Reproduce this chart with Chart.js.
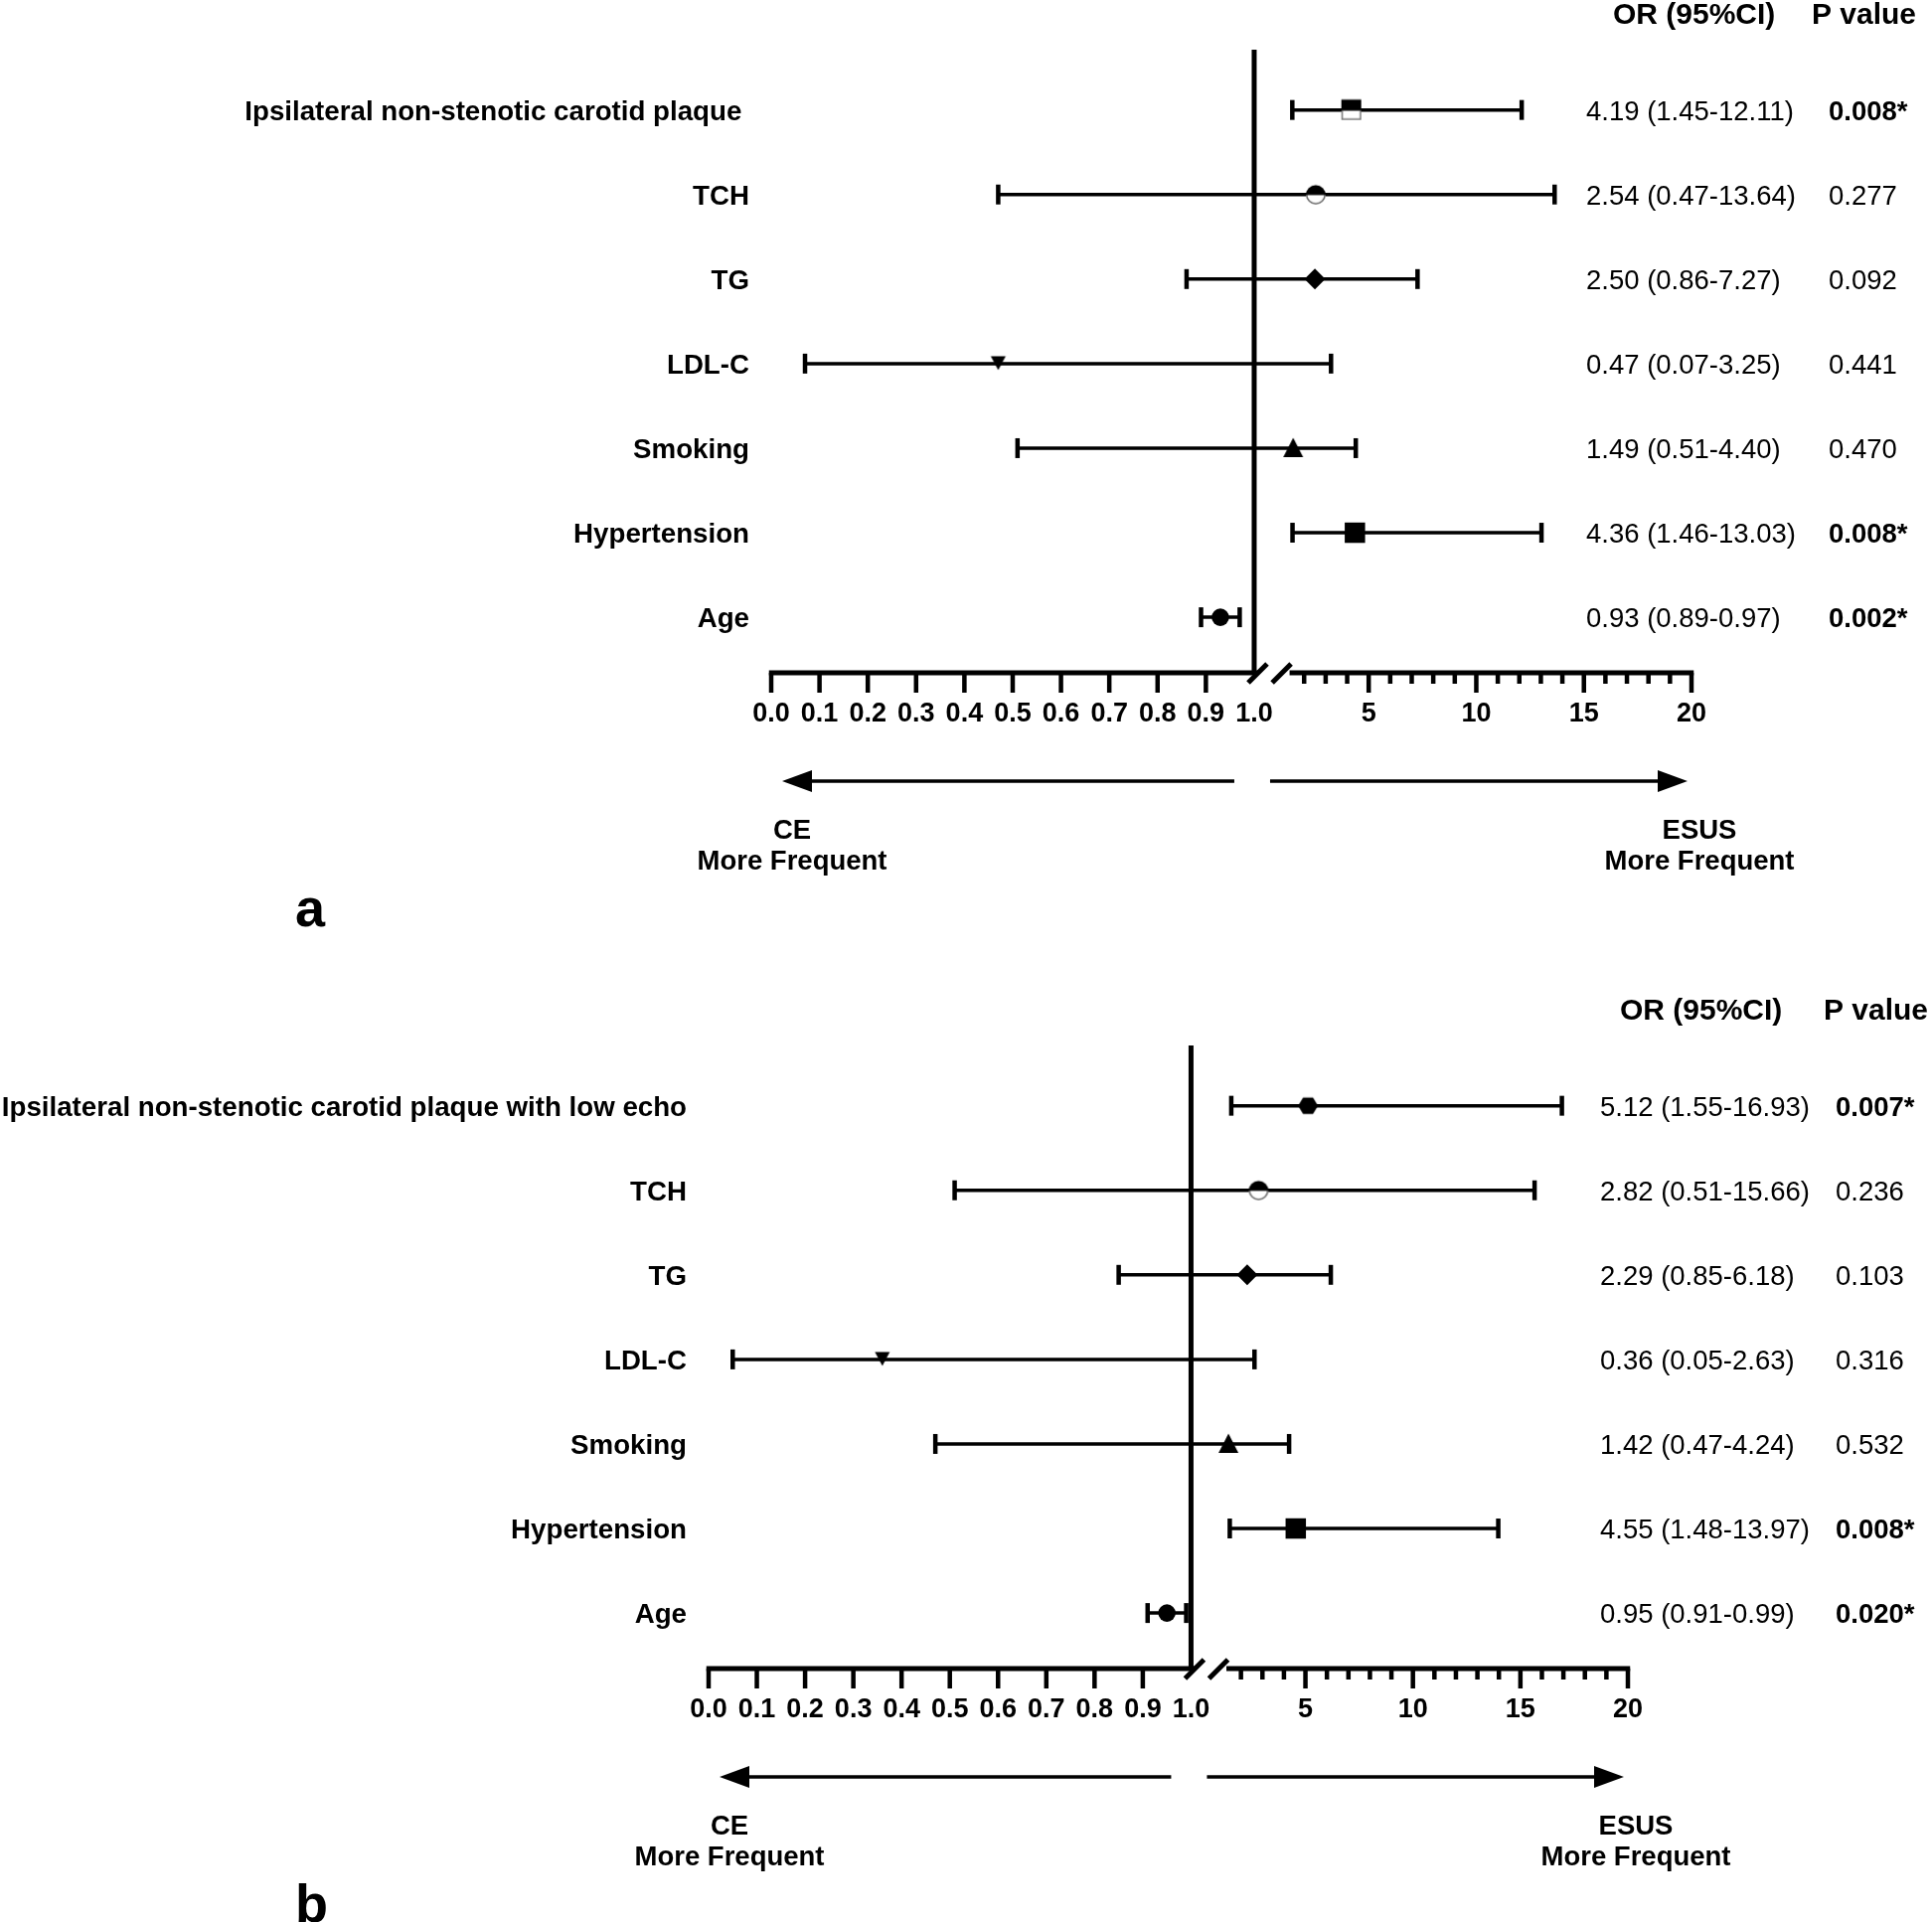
<!DOCTYPE html>
<html>
<head>
<meta charset="utf-8">
<title>Forest plots: CE vs ESUS</title>
<script src="https://cdn.jsdelivr.net/npm/chart.js@4.4.1/dist/chart.umd.min.js"></script>
<style>
  html, body { margin: 0; padding: 0; background: #fff; overflow: hidden; }
  body { width: 1944px; height: 1934px; position: relative; }
  canvas { position: absolute; left: 0; }
  #panelA { top: 0; }
  #panelB { top: 1002px; }
</style>
</head>
<body>
<canvas id="panelA" width="1944" height="1002"></canvas>
<canvas id="panelB" width="1944" height="1002"></canvas>
<script>
'use strict';

// ── Data ────────────────────────────────────────────────────────────────────
const LABELS_A = ['Ipsilateral non-stenotic carotid plaque ', 'TCH', 'TG', 'LDL-C', 'Smoking', 'Hypertension', 'Age'];
const OR_A     = [4.19, 2.54, 2.50, 0.47, 1.49, 4.36, 0.93];
const LO_A     = [1.45, 0.47, 0.86, 0.07, 0.51, 1.46, 0.89];
const HI_A     = [12.11, 13.64, 7.27, 3.25, 4.40, 13.03, 0.97];
const P_A      = [0.008, 0.277, 0.092, 0.441, 0.470, 0.008, 0.002];

const LABELS_B = ['Ipsilateral non-stenotic carotid plaque with low echo', 'TCH', 'TG', 'LDL-C', 'Smoking', 'Hypertension', 'Age'];
const OR_B     = [5.12, 2.82, 2.29, 0.36, 1.42, 4.55, 0.95];
const LO_B     = [1.55, 0.51, 0.85, 0.05, 0.47, 1.48, 0.91];
const HI_B     = [16.93, 15.66, 6.18, 2.63, 4.24, 13.97, 0.99];
const P_B      = [0.007, 0.236, 0.103, 0.316, 0.532, 0.008, 0.020];

// x axis: 0.0–1.0 in tenths, then a break, then 1–20
const X_TICKS = [0, 0.1, 0.2, 0.3, 0.4, 0.5, 0.6, 0.7, 0.8, 0.9, 1,
                 2, 3, 4, 5, 6, 7, 8, 9, 10, 11, 12, 13, 14, 15, 16, 17, 18, 19, 20];

// marker shape per row (style, not data)
const MARKERS_A = ['halfSquare', 'halfCircle', 'diamond', 'triangleDown', 'triangle', 'square', 'circle'];
const MARKERS_B = ['hexagon',    'halfCircle', 'diamond', 'triangleDown', 'triangle', 'square', 'circle'];

// ── Theme ───────────────────────────────────────────────────────────────────
const FONT = "'Liberation Sans', Arial, Helvetica, sans-serif";
const TEXT_DY = 2.5;   // nudge text baselines to match the original
Chart.defaults.color = '#000';
Chart.defaults.font.family = FONT;

// ── Broken linear scale: [0,1] on the left piece, [1,20] on the right ──────
class BrokenScale extends Chart.LinearScale {
  buildTicks() {
    return X_TICKS.map(v => ({ value: v }));
  }
  getPixelForValue(v) {
    const o = this.options, l = this.left, w = this.width;
    if (v <= o.breakAt) return l + (v - this.min) / (o.breakAt - this.min) * w * o.leftFrac;
    const start = l + w * (o.leftFrac + o.gapFrac);
    return start + (v - o.breakAt) / (this.max - o.breakAt) * (l + w - start);
  }
  getValueForPixel(px) {
    const o = this.options, l = this.left, w = this.width;
    const split = l + w * o.leftFrac;
    if (px <= split) return this.min + (px - l) / (w * o.leftFrac) * (o.breakAt - this.min);
    const start = l + w * (o.leftFrac + o.gapFrac);
    return o.breakAt + (px - start) / (l + w - start) * (this.max - o.breakAt);
  }
}
BrokenScale.id = 'broken';
BrokenScale.defaults = {};
Chart.register(BrokenScale);

// ── Marker shapes ───────────────────────────────────────────────────────────
function poly(g, pts) {
  g.beginPath();
  pts.forEach(([px, py]) => g.lineTo(px, py));
  g.closePath();
  g.fill();
}

function makeMarker(kind) {
  const c = document.createElement('canvas');
  c.width = 24; c.height = 24;
  const g = c.getContext('2d');
  const m = 12;
  g.fillStyle = '#000';
  if (kind === 'halfSquare') {
    g.fillStyle = '#fff';
    g.fillRect(2, 12, 20, 10);
    g.strokeStyle = '#777';
    g.lineWidth = 1.5;
    g.strokeRect(2.75, 12, 18.5, 9.25);
    g.fillStyle = '#000';
    g.fillRect(2, 1.5, 20, 11);
  } else if (kind === 'halfCircle') {
    g.fillStyle = '#fff';
    g.beginPath(); g.arc(m, m, 10, 0, Math.PI); g.fill();
    g.strokeStyle = '#666';
    g.lineWidth = 1.5;
    g.beginPath(); g.arc(m, m, 9.25, 0, Math.PI); g.stroke();
    g.fillStyle = '#000';
    g.beginPath(); g.arc(m, m + 0.5, 10, Math.PI, 2 * Math.PI); g.closePath(); g.fill();
  } else if (kind === 'hexagon') {
    const pts = [];
    for (let k = 0; k < 6; k++) {
      const t = k * Math.PI / 3;
      pts.push([m + 10 * Math.cos(t), m + 9.5 * Math.sin(t)]);
    }
    poly(g, pts);
  } else if (kind === 'triangle') {
    poly(g, [[12, 1.5], [2, 21], [22, 21]]);
  } else if (kind === 'triangleDown') {
    poly(g, [[4.5, 4.5], [19.5, 4.5], [12, 18.5]]);
  }
  return c;
}

const MARKER_STYLE = {
  halfSquare:   { style: makeMarker('halfSquare'),   radius: 10 },
  halfCircle:   { style: makeMarker('halfCircle'),   radius: 10 },
  hexagon:      { style: makeMarker('hexagon'),      radius: 10 },
  triangle:     { style: makeMarker('triangle'),     radius: 10 },
  triangleDown: { style: makeMarker('triangleDown'), radius: 8 },
  diamond:      { style: 'rectRot', radius: 10.5 },
  square:       { style: 'rect',    radius: 14.5 },
  circle:       { style: 'circle',  radius: 8.8 },
};

// ── Decorations: reference line, broken axis, arrows, text columns ─────────
function seg(ctx, x1, y1, x2, y2) {
  ctx.beginPath(); ctx.moveTo(x1, y1); ctx.lineTo(x2, y2); ctx.stroke();
}

function arrow(ctx, from, tip, yy) {
  const dir = Math.sign(tip - from);
  const base = tip - dir * 30;
  seg(ctx, from, yy, base, yy);
  ctx.beginPath();
  ctx.moveTo(tip, yy);
  ctx.lineTo(base, yy - 11);
  ctx.lineTo(base, yy + 11);
  ctx.closePath();
  ctx.fill();
}

const forestDecor = {
  id: 'forestDecor',
  beforeDatasetsDraw(chart) {
    const { ctx, chartArea: area, scales: { x } } = chart;
    const xL = x.getPixelForValue(1);
    const xR = x.getPixelForValue(1 + 1e-9);
    const yAx = area.bottom;
    ctx.save();
    ctx.strokeStyle = '#000';
    ctx.lineCap = 'butt';

    // OR = 1 reference line
    ctx.lineWidth = 5;
    seg(ctx, xL, area.top, xL, yAx);

    // axis line with break
    seg(ctx, x.getPixelForValue(0) - 2.25, yAx, xL + 4, yAx);
    seg(ctx, xR + 7, yAx, x.getPixelForValue(20) + 2.25, yAx);
    [xL + 3.5, xR - 1].forEach(cx => seg(ctx, cx - 9.5, yAx + 10, cx + 9.5, yAx - 9));

    // tick marks
    ctx.lineWidth = 4.5;
    x.ticks.forEach(t => {
      if (t.value === 1) return;
      const px = x.getPixelForValue(t.value);
      const major = t.value < 1 || t.value % 5 === 0;
      seg(ctx, px, yAx, px, yAx + (major ? 20 : 11));
    });
    ctx.restore();
  },
  afterDraw(chart, args, p) {
    const { ctx, chartArea: area, scales: { x, y } } = chart;
    const x0 = x.getPixelForValue(0);
    const x20 = x.getPixelForValue(20);
    const xL = x.getPixelForValue(1);
    const yAx = area.bottom;
    ctx.save();
    ctx.fillStyle = '#000';
    ctx.strokeStyle = '#000';

    // direction arrows
    ctx.lineWidth = 3.5;
    arrow(ctx, xL - 20, x0 + 11, yAx + 109);
    arrow(ctx, xL + 16, x20 - 4, yAx + 109);

    ctx.textBaseline = 'middle';
    ctx.textAlign = 'center';
    ctx.font = 'bold 27.5px ' + FONT;
    ctx.fillText('CE', x0 + 21, yAx + 159.5);
    ctx.fillText('More Frequent', x0 + 21, yAx + 190);
    ctx.fillText('ESUS', x20 + 8, yAx + 159.5);
    ctx.fillText('More Frequent', x20 + 8, yAx + 190);

    // table columns
    ctx.textAlign = 'left';
    ctx.font = 'bold 30px ' + FONT;
    ctx.fillText('OR (95%CI)', p.headOrX, 16);
    ctx.fillText('P value', p.headPX, 16);

    p.or.forEach((v, i) => {
      const py = y.getPixelForValue(i) + TEXT_DY;
      ctx.font = '27.5px ' + FONT;
      ctx.fillText(`${v.toFixed(2)} (${p.lo[i].toFixed(2)}-${p.hi[i].toFixed(2)})`, p.orX, py);
      const sig = p.p[i] < 0.05;
      ctx.font = (sig ? 'bold ' : '') + '27.5px ' + FONT;
      ctx.fillText(p.p[i].toFixed(3) + (sig ? '*' : ''), p.pX, py);
    });

    // panel letter
    ctx.font = 'bold 54px ' + FONT;
    ctx.textBaseline = 'alphabetic';
    ctx.fillText(p.letter, 297, 932);
    ctx.restore();
  },
};

// ── Build one forest panel ──────────────────────────────────────────────────
function buildPanel(canvasId, p) {
  const marks = p.markers.map(k => MARKER_STYLE[k]);

  const ciSets = p.labels.map((_, i) => ({
    data: [{ x: p.lo[i], y: i }, { x: p.hi[i], y: i }],
    showLine: true,
    borderColor: '#000',
    borderWidth: 3.5,
    pointStyle: 'line',
    pointRotation: 90,
    pointRadius: 10,
    pointBorderWidth: 4.5,
    pointBorderColor: '#000',
    order: 1,
  }));

  const orSet = {
    data: p.or.map((v, i) => ({ x: v, y: i })),
    pointStyle: marks.map(m => m.style),
    pointRadius: marks.map(m => m.radius),
    pointBackgroundColor: '#000',
    pointBorderColor: '#000',
    pointBorderWidth: 0,
    order: 0,
  };

  return new Chart(document.getElementById(canvasId), {
    type: 'scatter',
    data: { datasets: [orSet, ...ciSets] },
    plugins: [forestDecor],
    options: {
      responsive: false,
      devicePixelRatio: 1,
      animation: false,
      events: [],
      layout: { padding: { top: 50, right: 1944 - p.plotRight, bottom: 0, left: 0 } },
      plugins: {
        legend: { display: false },
        tooltip: { enabled: false },
        forestDecor: p,
      },
      scales: {
        x: {
          type: 'broken',
          min: 0,
          max: 20,
          breakAt: 1,
          leftFrac: 0.5248,
          gapFrac: 0.0309,
          grid: { display: false, drawTicks: false },
          border: { display: false },
          ticks: {
            autoSkip: false,
            maxRotation: 0,
            minRotation: 0,
            padding: 25,
            color: '#000',
            font: { size: 27, weight: 'bold' },
            callback: v => v <= 1 ? v.toFixed(1) : (v % 5 === 0 ? String(v) : ''),
          },
          afterFit: s => { s.height = 1002 - 677; },
        },
        y: {
          type: 'linear',
          reverse: true,
          min: -0.713,
          max: p.labels.length - 0.343,
          grid: { display: false, drawTicks: false },
          border: { display: false },
          ticks: {
            padding: 22,
            labelOffset: TEXT_DY,
            color: '#000',
            font: { size: 27.7, weight: 'bold' },
            callback: v => p.labels[v] ?? '',
          },
          afterBuildTicks: s => { s.ticks = p.labels.map((_, i) => ({ value: i })); },
          afterFit: s => { s.width = p.plotLeft; },
        },
      },
    },
  });
}

buildPanel('panelA', {
  labels: LABELS_A, or: OR_A, lo: LO_A, hi: HI_A, p: P_A, markers: MARKERS_A,
  plotLeft: 776, plotRight: 1702, orX: 1596, pX: 1840, headOrX: 1623, headPX: 1823, letter: 'a',
});

buildPanel('panelB', {
  labels: LABELS_B, or: OR_B, lo: LO_B, hi: HI_B, p: P_B, markers: MARKERS_B,
  plotLeft: 713, plotRight: 1638, orX: 1610, pX: 1847, headOrX: 1630, headPX: 1835, letter: 'b',
});
</script>
</body>
</html>
